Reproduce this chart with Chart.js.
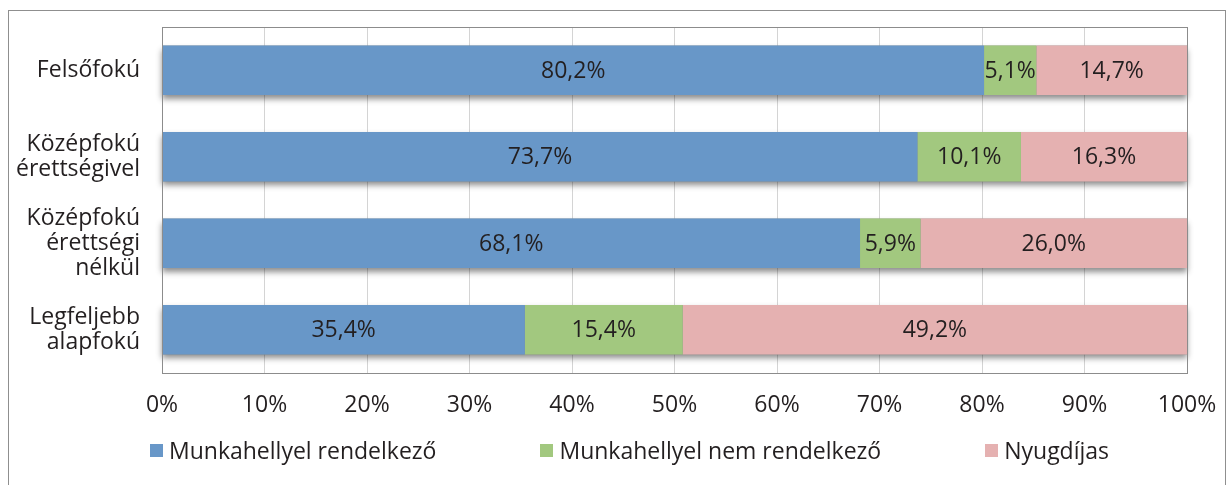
<!DOCTYPE html>
<html lang="hu">
<head>
<meta charset="utf-8">
<script src="https://cdn.jsdelivr.net/npm/chart.js@4"></script>
<style>
  html, body { margin: 0; padding: 0; background: #fff; }
  body { width: 1229px; height: 485px; position: relative; overflow: hidden; font-family: "Open Sans", sans-serif; }
  #frame { position: absolute; left: 8px; top: 10px; width: 1218px; height: 500px; border: 1px solid #8f8f8f; box-sizing: border-box; }
  #wrap { position: absolute; left: 0; top: 0; width: 1229px; height: 485px; }
  #legend { position: absolute; left: 150px; top: 434px; display: flex; gap: 104px; color: #231f20; font-size: 23px; }
  #legend span.item { display: flex; align-items: center; }
  #legend i { display: inline-block; width: 13px; height: 13px; margin-right: 6px; }
</style>
</head>
<body>
<div id="frame"></div>
<div id="wrap"><canvas id="chart" width="1229" height="485"></canvas></div>
<div id="legend"></div>
<script>
const categories = [
  ['Felsőfokú'],
  ['Középfokú', 'érettségivel'],
  ['Középfokú', 'érettségi', 'nélkül'],
  ['Legfeljebb', 'alapfokú']
];
const seriesNames = ['Munkahellyel rendelkező', 'Munkahellyel nem rendelkező', 'Nyugdíjas'];
const employed = [80.2, 73.7, 68.1, 35.4];
const unemployed = [5.1, 10.1, 5.9, 15.4];
const retired = [14.7, 16.3, 26.0, 49.2];
const xTicks = [0, 10, 20, 30, 40, 50, 60, 70, 80, 90, 100];
const colors = ['#6897c8', '#a2c87f', '#e5b1b1'];

const textColor = '#231f20';
const font = { family: '"Open Sans", sans-serif', size: 23 };
const fmt = v => v.toFixed(1).replace('.', ',') + '%';

// shadow under each whole bar
const barShadow = {
  id: 'barShadow',
  beforeDatasetsDraw(chart) {
    const ctx = chart.ctx;
    const x = chart.scales.x;
    const last = chart.getDatasetMeta(chart.data.datasets.length - 1);
    ctx.save();
    ctx.shadowColor = 'rgba(0,0,0,0.45)';
    ctx.shadowBlur = 6;
    ctx.shadowOffsetY = 4;
    ctx.fillStyle = '#888';
    last.data.forEach(el => {
      const left = x.getPixelForValue(0);
      const right = Math.min(el.x, x.right);
      ctx.fillRect(left, el.y - el.height / 2, right - left, el.height);
    });
    ctx.restore();
  }
};

// value labels in the middle of each segment
const valueLabels = {
  id: 'valueLabels',
  afterDatasetsDraw(chart) {
    const ctx = chart.ctx;
    ctx.save();
    ctx.font = `${font.size}px ${font.family}`;
    ctx.fillStyle = textColor;
    ctx.textAlign = 'center';
    ctx.textBaseline = 'middle';
    chart.data.datasets.forEach((ds, i) => {
      chart.getDatasetMeta(i).data.forEach((el, j) => {
        const right = Math.min(el.x, chart.scales.x.right);
        ctx.fillText(fmt(ds.data[j]), (el.base + right) / 2, el.y + 1);
      });
    });
    ctx.restore();
  }
};

// frame around the plot area
const plotFrame = {
  id: 'plotFrame',
  afterDraw(chart) {
    const a = chart.chartArea;
    const ctx = chart.ctx;
    ctx.save();
    ctx.strokeStyle = '#8c8c8c';
    ctx.lineWidth = 1;
    ctx.strokeRect(Math.round(a.left) + 0.5, Math.round(a.top) + 0.5, Math.round(a.right - a.left), Math.round(a.bottom - a.top));
    ctx.restore();
  }
};

new Chart(document.getElementById('chart'), {
  type: 'bar',
  data: {
    labels: categories,
    datasets: [employed, unemployed, retired].map((d, i) => ({
      label: seriesNames[i],
      data: d,
      backgroundColor: colors[i],
      borderWidth: 0,
      barPercentage: 0.57,
      categoryPercentage: 1
    }))
  },
  options: {
    indexAxis: 'y',
    responsive: false,
    animation: false,
    layout: { padding: { top: 27, right: 42, left: 0, bottom: 0 } },
    plugins: { legend: { display: false }, tooltip: { enabled: false } },
    scales: {
      x: {
        stacked: true,
        min: 0,
        max: 100,
        afterBuildTicks: s => { s.ticks = xTicks.map(v => ({ value: v })); },
        afterFit: s => { s.height = 112; s.paddingLeft = 0; s.paddingRight = 0; },
        grid: { color: '#d4d4d4', drawTicks: false },
        border: { display: false },
        ticks: { color: textColor, font, padding: 19, callback: v => v + '%', maxRotation: 0 }
      },
      y: {
        stacked: true,
        afterFit: s => { s.width = 162; s.paddingTop = 0; s.paddingBottom = 0; },
        grid: { display: false, drawTicks: false },
        border: { display: false },
        ticks: { color: textColor, font: { ...font, lineHeight: 1.08 }, padding: 22 }
      }
    }
  },
  plugins: [barShadow, valueLabels, plotFrame]
});

const legend = document.getElementById('legend');
seriesNames.forEach((name, i) => {
  const item = document.createElement('span');
  item.className = 'item';
  item.innerHTML = `<i style="background:${colors[i]}"></i>${name}`;
  legend.appendChild(item);
});
</script>
</body>
</html>
